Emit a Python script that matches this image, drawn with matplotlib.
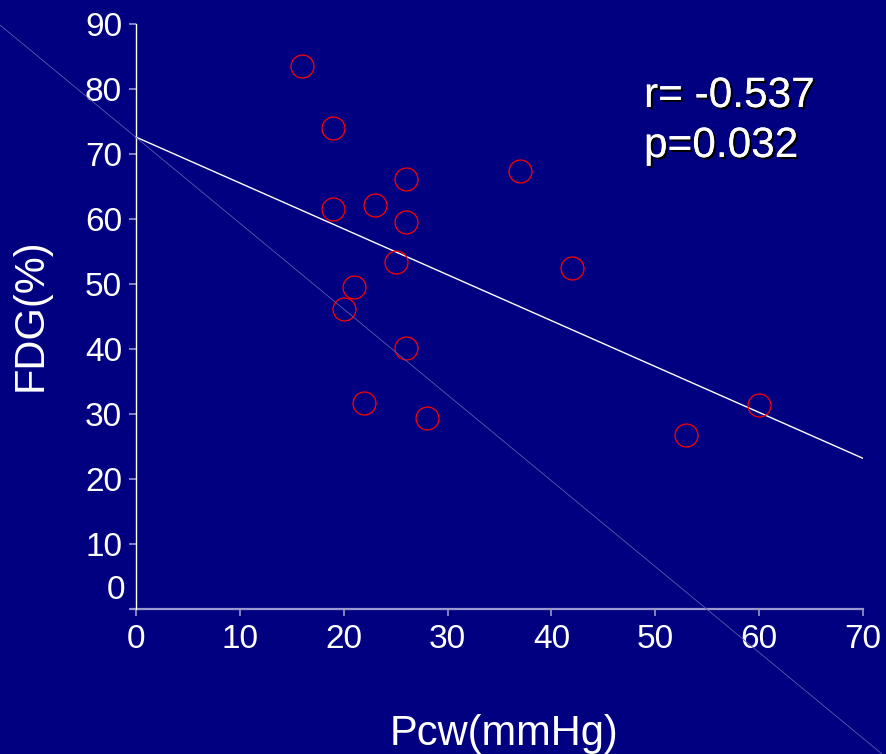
import matplotlib
matplotlib.use("Agg")
import matplotlib.pyplot as plt
import matplotlib.patheffects as pe
from matplotlib.lines import Line2D

# Data
pcw = [16, 19, 19, 23, 26, 26, 37, 25, 42, 21, 20, 26, 22, 28, 53, 60]
fdg = [83.5, 74.0, 61.5, 62.2, 66.2, 59.5, 67.4, 53.4, 52.5, 49.5, 46.2, 40.2, 31.7, 29.4, 26.8, 31.4]
fit_intercept = 72.6
fit_slope = -0.706
x_ticks = [0, 10, 20, 30, 40, 50, 60, 70]
y_ticks = [0, 10, 20, 30, 40, 50, 60, 70, 80, 90]
stats_lines = ["r= -0.537", "p=0.032"]

W, H = 886, 754
BG = "#000080"
LAV = "#9999cc"
plt.rcParams['font.family'] = ['Liberation Sans', 'DejaVu Sans']

fig = plt.figure(figsize=(W / 100, H / 100), dpi=100, facecolor=BG)
left_px, right_px, top_px, bot_px = 131, 863, 24, 609
ax = fig.add_axes([left_px / W, 1 - bot_px / H, (right_px - left_px) / W, (bot_px - top_px) / H])
ax.set_facecolor(BG)

ax.set_xlim(-0.48, 70)
ax.set_ylim(0, 90)

for s in ['top', 'right']:
    ax.spines[s].set_visible(False)
ax.spines['left'].set_position(('data', 0))
ax.spines['left'].set_color('white')
ax.spines['left'].set_linewidth(1.0)
ax.spines['left'].set_zorder(3)
ax.spines['bottom'].set_color(LAV)
ax.spines['bottom'].set_linewidth(1.6)

ax.set_xticks(x_ticks)
ax.set_yticks(y_ticks)
ax.set_xticklabels([str(v) for v in x_ticks])
# the "0" label on the y axis sits above its tick in the original; drawn separately below
ax.set_yticklabels(["" if v == 0 else str(v) for v in y_ticks])
ax.tick_params(axis='x', colors=LAV, labelcolor='white', labelsize=24, length=5, width=1.2, pad=5.5, direction='out')
ax.tick_params(axis='y', colors=LAV, labelcolor='white', labelsize=24, length=5, width=1.2, pad=5, direction='out')
ax.annotate(str(y_ticks[0]), xy=(0, y_ticks[0]), xycoords='data', xytext=(-7.5, 13.5),
            textcoords='offset points', ha='right', va='center', color='white', fontsize=24,
            annotation_clip=False)

# regression line
xs = [0, 70]
ys = [fit_intercept + fit_slope * v for v in xs]
ax.plot(xs, ys, color='white', lw=1.0, zorder=2)

# points
ax.plot(pcw, fdg, linestyle='none', marker='o', ms=16.5, mfc='none', mec='#ff0000', mew=0.9, zorder=4)

# faint decorative diagonal line across the figure
fig.add_artist(Line2D([0, 882 / W], [1 - 25 / H, 0], transform=fig.transFigure,
                      color='#5c5cae', lw=0.6, zorder=1))

ax.set_xlabel("Pcw(mmHg)", color='white', fontsize=30)
ax.xaxis.set_label_coords((504 - left_px) / (right_px - left_px), -(734 - bot_px) / (bot_px - top_px))
ax.xaxis.label.set_va('center')
ax.set_ylabel("FDG(%)", color='white', fontsize=30)
ax.yaxis.set_label_coords(-(left_px - 31) / (right_px - left_px), (bot_px - 315) / (bot_px - top_px))
ax.yaxis.label.set_va('center')

shadow = [pe.withSimplePatchShadow(offset=(1.5, -1.5), shadow_rgbFace='black', alpha=1.0), pe.Normal()]
for line, base in zip(stats_lines, [107, 157]):
    fig.text(644 / W, 1 - base / H, line, color='white', fontsize=30.5, ha='left', va='baseline',
             path_effects=shadow)

fig.savefig("out.png", dpi=100, facecolor=BG)
